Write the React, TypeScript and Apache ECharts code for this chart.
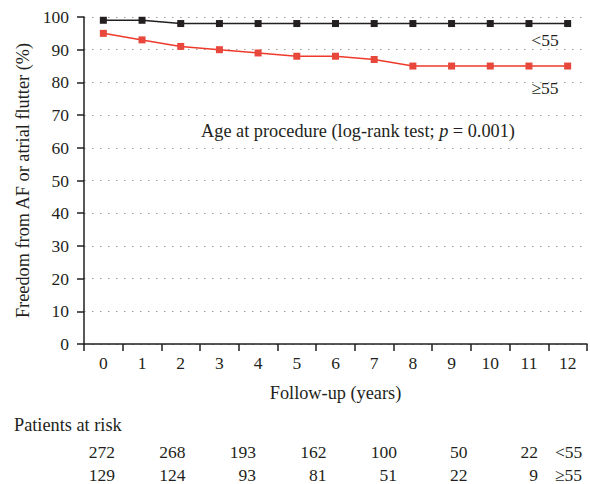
import React, { useEffect, useRef } from "react";
import * as echarts from "echarts";

const years = ["0", "1", "2", "3", "4", "5", "6", "7", "8", "9", "10", "11", "12"];
const under55 = [99, 99, 98, 98, 98, 98, 98, 98, 98, 98, 98, 98, 98];
const over55 = [95, 93, 91, 90, 89, 88, 88, 87, 85, 85, 85, 85, 85];
const riskUnder55 = [272, 268, 193, 162, 100, 50, 22];
const riskOver55 = [129, 124, 93, 81, 51, 22, 9];
const groupLabels = ["<55", "≥55"];

const FONT = "'Liberation Serif', 'DejaVu Serif', serif";
const TXT = "#231f20";
const NUM = 17.5;
const WORD = 18.3;

export default function App() {
  const ref = useRef<HTMLDivElement>(null);
  useEffect(() => {
    if (!ref.current) return;
    const chart = echarts.init(ref.current, undefined, { renderer: "svg" });
    const riskText: any[] = [];
    const colX0 = 115;
    const colStep = 70.5;
    [riskUnder55, riskOver55].forEach((row, r) => {
      row.forEach((v, i) => {
        riskText.push({
          type: "text",
          x: colX0 + colStep * i,
          y: 452 + r * 23,
          style: {
            text: String(v),
            font: `${NUM}px ${FONT}`,
            fill: TXT,
            align: "right",
            verticalAlign: "middle",
          },
        });
      });
      riskText.push({
        type: "text",
        x: 555,
        y: 452 + r * 23,
        style: {
          text: groupLabels[r],
          font: `${NUM}px ${FONT}`,
          fill: TXT,
          align: "left",
          verticalAlign: "middle",
        },
      });
    });
    chart.setOption({
      animation: false,
      textStyle: { fontFamily: FONT, color: TXT },
      grid: { left: 84, right: 3, top: 17, bottom: 140, containLabel: false },
      xAxis: {
        type: "category",
        data: years,
        boundaryGap: true,
        name: "Follow-up (years)",
        nameLocation: "middle",
        nameGap: 40,
        nameTextStyle: { fontFamily: FONT, fontSize: WORD, color: TXT },
        axisLine: { lineStyle: { color: TXT, width: 1.5 } },
        axisTick: { show: true, length: 7, lineStyle: { color: TXT, width: 1.5 } },
        axisLabel: { fontFamily: FONT, fontSize: NUM, color: TXT, margin: 10 },
        splitLine: { show: false },
      },
      yAxis: {
        type: "value",
        min: 0,
        max: 100,
        interval: 10,
        name: "Freedom from AF or atrial flutter (%)",
        nameLocation: "middle",
        nameGap: 52,
        nameTextStyle: { fontFamily: FONT, fontSize: WORD, color: TXT },
        axisLine: { show: true, lineStyle: { color: TXT, width: 1.5 } },
        axisTick: { show: true, length: 7, lineStyle: { color: TXT, width: 1.5 } },
        axisLabel: { fontFamily: FONT, fontSize: NUM, color: TXT, margin: 15 },
        splitLine: {
          show: true,
          lineStyle: { color: "#9a9a9a", type: [1.5, 6.5], width: 1.1 },
        },
      },
      graphic: [
        {
          type: "text",
          x: 545,
          y: 40,
          style: { text: "<55", font: `${NUM}px ${FONT}`, fill: TXT, align: "center", verticalAlign: "middle" },
        },
        {
          type: "text",
          x: 545,
          y: 88,
          style: { text: "≥55", font: `${NUM}px ${FONT}`, fill: TXT, align: "center", verticalAlign: "middle" },
        },
        {
          type: "text",
          x: 358,
          y: 131,
          style: {
            text: "Age at procedure (log-rank test; {i|p} = 0.001)",
            font: `${WORD}px ${FONT}`,
            fill: TXT,
            align: "center",
            verticalAlign: "middle",
            rich: { i: { fontStyle: "italic", fontFamily: FONT, fontSize: WORD, fill: TXT } },
          },
        },
        {
          type: "text",
          x: 14,
          y: 425,
          style: { text: "Patients at risk", font: `${WORD}px ${FONT}`, fill: TXT, align: "left", verticalAlign: "middle" },
        },
        ...riskText,
      ],
      series: [
        {
          name: "<55",
          type: "line",
          data: under55,
          symbol: "rect",
          symbolSize: 7,
          lineStyle: { color: "#231f20", width: 1.5 },
          itemStyle: { color: "#231f20" },
          z: 3,
        },
        {
          name: "≥55",
          type: "line",
          data: over55,
          symbol: "rect",
          symbolSize: 7,
          lineStyle: { color: "#ee3a2a", width: 1.5 },
          itemStyle: { color: "#e8473b" },
          z: 3,
        },
      ],
    });
    return () => chart.dispose();
  }, []);
  return (
    <div
      ref={ref}
      style={{ position: "fixed", left: 0, top: 0, width: 590, height: 484, background: "#fff" }}
    />
  );
}
